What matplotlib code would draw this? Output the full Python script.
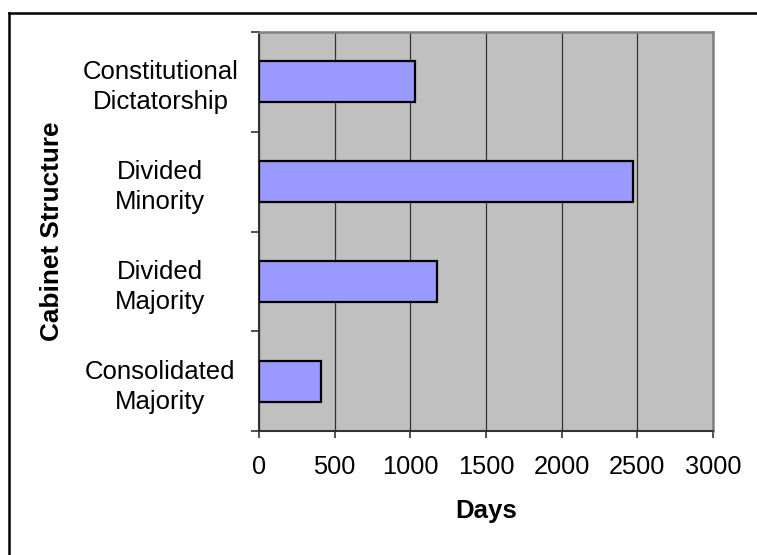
import matplotlib
matplotlib.use("Agg")
import matplotlib.pyplot as plt
from matplotlib.lines import Line2D

categories = ["Consolidated\nMajority", "Divided\nMajority", "Divided\nMinority", "Constitutional\nDictatorship"]
values = [412, 1178, 2474, 1031]
xticks = [0, 500, 1000, 1500, 2000, 2500, 3000]

plt.rcParams['font.family'] = ['Liberation Sans', 'DejaVu Sans']

W, H = 757, 555
fig = plt.figure(figsize=(W / 100, H / 100), dpi=100)
fig.patch.set_facecolor("white")

l, r, t, b = 259, 713, 32, 431
ax = fig.add_axes([l / W, 1 - b / H, (r - l) / W, (b - t) / H])
ax.set_facecolor("#C0C0C0")

ypos = list(range(len(categories)))
ax.barh(ypos, values, height=0.41, color="#9999FF", edgecolor="black", linewidth=1.6, zorder=3)

ax.set_xlim(0, 3000)
ax.set_ylim(-0.5, len(categories) - 0.5)
ax.set_xticks(xticks)
ax.set_xticklabels([str(v) for v in xticks], fontsize=18.3)
ax.xaxis.grid(True, color="#333333", linewidth=0.9, zorder=1)
ax.set_axisbelow(True)

# y ticks at category boundaries, labels at centers
ax.set_yticks([i - 0.5 for i in range(len(categories) + 1)])
ax.set_yticklabels([])
ax.set_yticks(ypos, minor=True)
ax.set_yticklabels(categories, minor=True, fontsize=18.5, ha="center", multialignment="center",
                   linespacing=1.32)
ax.tick_params(axis="y", which="minor", length=0, pad=71)
ax.tick_params(axis="y", which="major", length=6, width=1.2, color="#333333", direction="out")
ax.tick_params(axis="x", length=5, width=1.2, color="#333333", direction="out", pad=12)

for s in ["left", "bottom"]:
    ax.spines[s].set_color("#333333")
    ax.spines[s].set_linewidth(1.5)
for s in ["top", "right"]:
    ax.spines[s].set_color("#808080")
    ax.spines[s].set_linewidth(1.8)

ax.set_xlabel("Days", fontsize=18.5, fontweight="bold", labelpad=15)
ax.set_ylabel("Cabinet Structure", fontsize=18.8, fontweight="bold")
ax.yaxis.set_label_coords((64 - l) / (r - l), 0.5)

# chart border (only top and left visible in the crop)
fig.add_artist(Line2D([9 / W, 1.01], [1 - 13 / H, 1 - 13 / H], transform=fig.transFigure, color="black", linewidth=1.8))
fig.add_artist(Line2D([9 / W, 9 / W], [1 - 13 / H, -0.01], transform=fig.transFigure, color="black", linewidth=1.8))

fig.savefig("out.png", dpi=100)
